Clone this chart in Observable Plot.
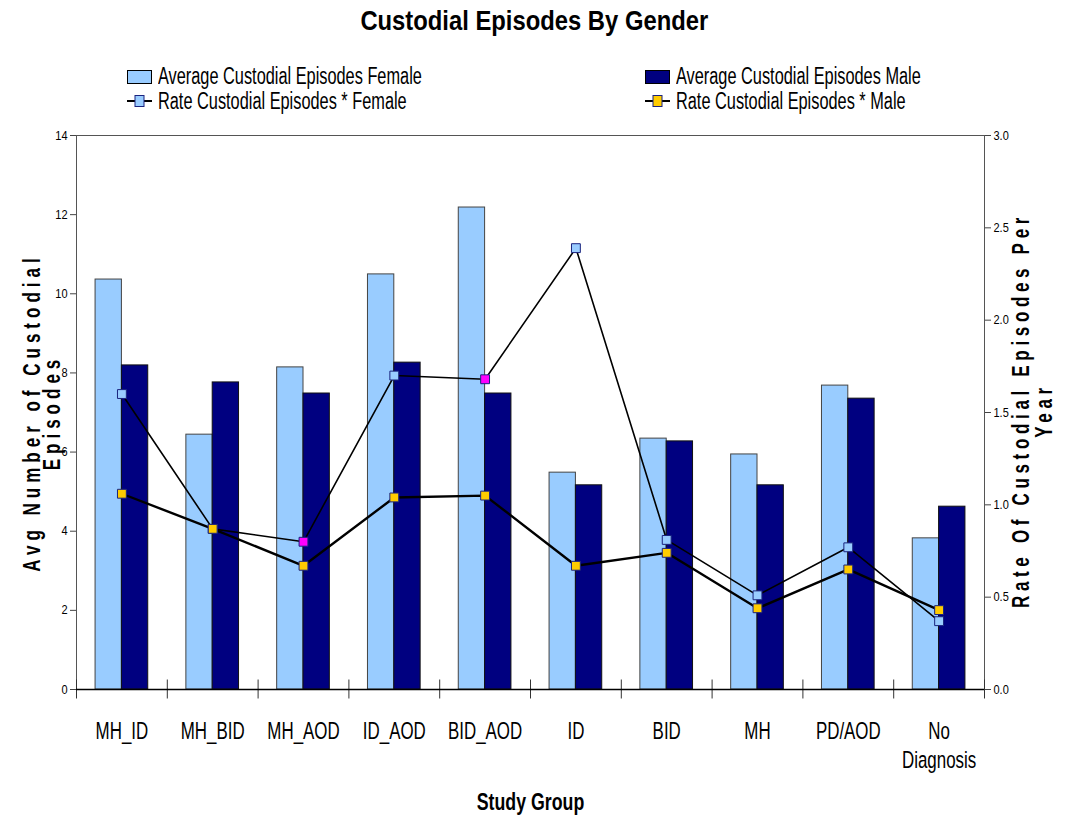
<!DOCTYPE html>
<html>
<head>
<meta charset="utf-8">
<script src="https://cdn.jsdelivr.net/npm/d3@7"></script>
<script src="https://cdn.jsdelivr.net/npm/@observablehq/plot@0.6"></script>
<style>
  body { margin: 0; background: #fff; }
  #wrap { position: relative; width: 1068px; height: 818px; font-family: "Liberation Sans", Arial, sans-serif; }
  #title { position: absolute; left: 0; top: 5px; width: 1068px; text-align: center; font-weight: bold; font-size: 28px; z-index: 2; transform: scaleX(0.85); transform-origin: 536px 0; }
  .leg { position: absolute; display: flex; align-items: center; font-size: 23px; white-space: nowrap; z-index: 2; height: 24px; }
  .leg span { display: inline-block; transform: scaleX(0.71); transform-origin: 0 50%; }
  .sw { width: 25px; height: 14px; border: 1px solid #000; margin-right: 6px; box-sizing: border-box; }
  .ln { margin-right: 6px; }
  #chart { position: absolute; left: 0; top: 0; z-index: 1; }
</style>
</head>
<body>
<div id="wrap">
  <div id="title">Custodial Episodes By Gender</div>
  <div class="leg" style="left:127px; top:64.5px;"><div class="sw" style="background:#99CCFF"></div><span>Average Custodial Episodes Female</span></div>
  <div class="leg" style="left:645px; top:64.5px;"><div class="sw" style="background:#000080"></div><span>Average Custodial Episodes Male</span></div>
  <div class="leg" style="left:127px; top:89px;"><svg class="ln" width="25" height="16"><line x1="0" y1="8" x2="25" y2="8" stroke="#000" stroke-width="2"/><rect x="8" y="2.5" width="9" height="11" fill="#99CCFF" stroke="#1a237e"/></svg><span>Rate Custodial Episodes * Female</span></div>
  <div class="leg" style="left:645px; top:89px;"><svg class="ln" width="25" height="16"><line x1="0" y1="8" x2="25" y2="8" stroke="#000" stroke-width="2"/><rect x="8" y="2.5" width="9" height="11" fill="#FFCC00" stroke="#1a237e"/></svg><span>Rate Custodial Episodes * Male</span></div>
  <div id="chart"></div>
</div>
<script>
const categories = ["MH_ID", "MH_BID", "MH_AOD", "ID_AOD", "BID_AOD", "ID", "BID", "MH", "PD/AOD", "No Diagnosis"];
const avgFemale = [10.36, 6.44, 8.14, 10.49, 12.18, 5.48, 6.34, 5.94, 7.68, 3.82];
const avgMale   = [8.19, 7.76, 7.48, 8.26, 7.48, 5.16, 6.27, 5.16, 7.35, 4.62];
const rateFemale = [1.60, 0.87, 0.80, 1.70, 1.68, 2.39, 0.81, 0.51, 0.77, 0.37];
const rateMale   = [1.06, 0.87, 0.67, 1.04, 1.05, 0.67, 0.74, 0.44, 0.65, 0.43];
const highlightedFemale = ["MH_AOD", "BID_AOD"];
const leftTicks = [0, 2, 4, 6, 8, 10, 12, 14];
const rightTicks = [0, 0.5, 1.0, 1.5, 2.0, 2.5, 3.0];

const leftMax = 14, rightMax = 3;
const k = leftMax / rightMax; // maps right-axis rates onto the left scale
const bw = 0.29;              // bar width as a fraction of a category slot

const rows = categories.map((c, i) => ({
  c, i, f: avgFemale[i], m: avgMale[i], rf: rateFemale[i] * k, rm: rateMale[i] * k
}));

const plot = Plot.plot({
  width: 1068,
  height: 818,
  marginLeft: 76,
  marginRight: 84,
  marginTop: 135,
  marginBottom: 129,
  style: { fontFamily: '"Liberation Sans", Arial, sans-serif', background: "transparent", color: "#000" },
  x: { type: "linear", domain: [0, categories.length], axis: null },
  y: { domain: [0, leftMax], axis: null },
  marks: [
    Plot.frame({ stroke: "#555", strokeWidth: 1 }),
    Plot.rectY(rows, { x1: d => d.i + 0.5 - bw, x2: d => d.i + 0.5, y1: 0, y2: "f", fill: "#99CCFF", stroke: "#444", strokeWidth: 1 }),
    Plot.rectY(rows, { x1: d => d.i + 0.5, x2: d => d.i + 0.5 + bw, y1: 0, y2: "m", fill: "#000080", stroke: "#111", strokeWidth: 1 }),
    Plot.axisY({ anchor: "left", ticks: leftTicks, tickSize: 6, tickPadding: 3, fontSize: 12.5, tickFormat: d => d, label: null, stroke: "#444" }),
    Plot.axisY({ anchor: "right", ticks: rightTicks.map(r => r * k), tickSize: 6, tickPadding: 3, fontSize: 12.5, tickFormat: d => (d / k).toFixed(1), label: null, stroke: "#444" }),
    Plot.ruleX(d3.range(categories.length + 1), { x: d => d, y1: -0.24, y2: 0.24, stroke: "#333" }),
    Plot.ruleY([0], { stroke: "#000", strokeWidth: 1.5 }),
    Plot.axisX({ ticks: rows.map(d => d.i + 0.5), tickSize: 0, tickPadding: 29, fontSize: 23.5, lineHeight: 1.22,
      tickFormat: v => categories[Math.floor(v)].replace(" ", "\n"), label: null }),
    Plot.line(rows, { x: d => d.i + 0.5, y: "rf", stroke: "#000", strokeWidth: 1.6 }),
    Plot.line(rows, { x: d => d.i + 0.5, y: "rm", stroke: "#000", strokeWidth: 2.4 }),
    Plot.dot(rows, { x: d => d.i + 0.5, y: "rf", symbol: "square", r: 5, fill: d => highlightedFemale.includes(d.c) ? "#FF00FF" : "#99CCFF", stroke: "#1a237e", strokeWidth: 1 }),
    Plot.dot(rows, { x: d => d.i + 0.5, y: "rm", symbol: "square", r: 5, fill: "#FFCC00", stroke: "#1a237e", strokeWidth: 1 }),
    Plot.text(["Avg Number of Custodial\nEpisodes"], { frameAnchor: "left", textAnchor: "middle", dx: -33, rotate: -90, fontSize: 23, fontWeight: "bold", lineHeight: 0.9, className: "ytitle-left" }),
    Plot.text(["Rate Of Custodial Episodes Per\nYear"], { frameAnchor: "right", textAnchor: "middle", dx: 49, dy: -2, rotate: -90, fontSize: 23, fontWeight: "bold", lineHeight: 1.0, className: "ytitle-right" }),
    Plot.text(["Study Group"], { frameAnchor: "bottom", dy: 120, fontSize: 24, fontWeight: "bold", className: "xtitle" })
  ]
});

// mimic a narrow typeface: squeeze texts along their baseline around their anchor
function squeeze(sel, f) {
  sel.each(function () {
    const t = this.getAttribute("transform");
    if (t) {
      this.setAttribute("transform", t + ` scale(${f},1)`);
    } else {
      const x = +this.getAttribute("x") || 0, y = +this.getAttribute("y") || 0;
      this.removeAttribute("x"); this.removeAttribute("y");
      this.setAttribute("transform", `translate(${x},${y}) scale(${f},1)`);
    }
  });
}
const svg = d3.select(plot);
svg.selectAll(".ytitle-left text").attr("letter-spacing", "6.75px");
svg.selectAll(".ytitle-right text").attr("letter-spacing", "6.3px");
squeeze(svg.selectAll(".ytitle-left text"), 0.74);
squeeze(svg.selectAll(".ytitle-right text"), 0.74);
squeeze(svg.selectAll(".xtitle text"), 0.74);
squeeze(svg.selectAll('g[aria-label="x-axis tick label"] text'), 0.72);
squeeze(svg.selectAll('g[aria-label="y-axis tick label"] text'), 0.88);
document.getElementById("chart").appendChild(plot);
</script>
</body>
</html>
